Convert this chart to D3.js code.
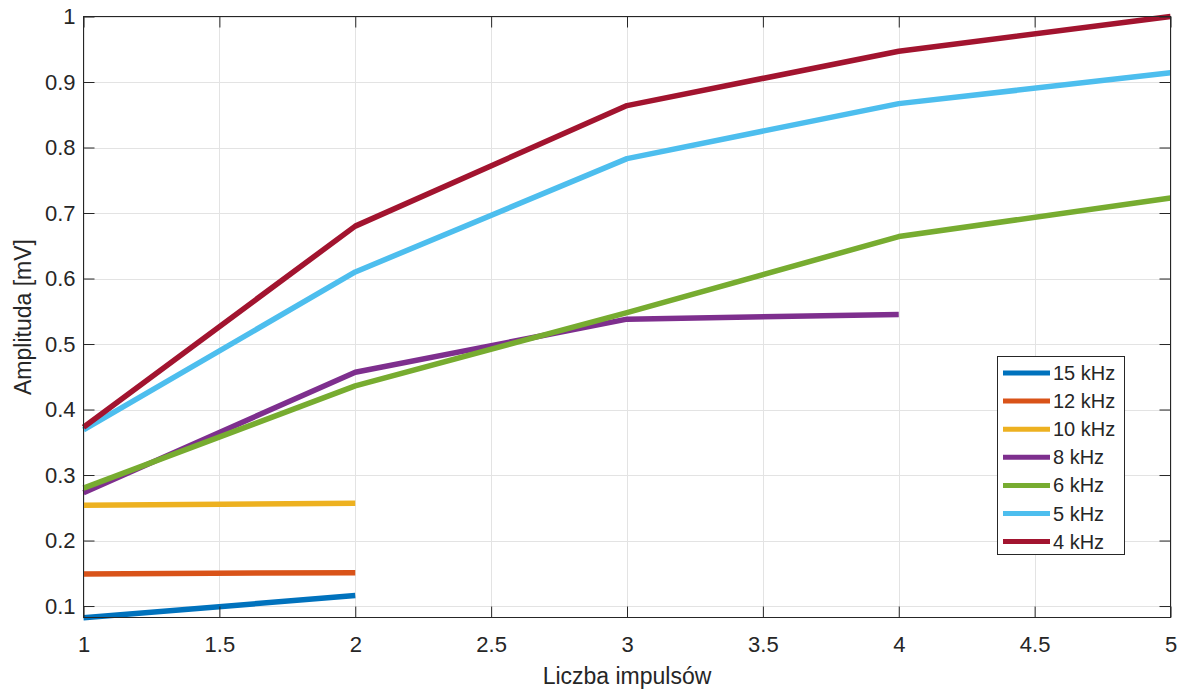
<!DOCTYPE html>
<html><head><meta charset="utf-8">
<script src="https://cdn.jsdelivr.net/npm/d3@7"></script>
<style>body{margin:0;background:#fff;} text{font-family:"Liberation Sans",Arial,Helvetica,sans-serif;fill:#262626;}</style>
</head><body>
<svg id="c" width="1184" height="691"></svg>
<script>
const xValues = [1, 2, 3, 4, 5];
const seriesNames = ["15 kHz", "12 kHz", "10 kHz", "8 kHz", "6 kHz", "5 kHz", "4 kHz"];
const s15 = [0.082, 0.116];
const s12 = [0.149, 0.151];
const s10 = [0.254, 0.257];
const s8 = [0.273, 0.457, 0.538, 0.545];
const s6 = [0.280, 0.436, 0.548, 0.664, 0.723];
const s5 = [0.369, 0.610, 0.783, 0.867, 0.914];
const s4 = [0.373, 0.680, 0.864, 0.947, 1.000];
const seriesColors = ["#0072BD", "#D95319", "#EDB120", "#7E2F8E", "#77AC30", "#4DBEEE", "#A2142F"];
const xTicks = [1, 1.5, 2, 2.5, 3, 3.5, 4, 4.5, 5];
const yTicks = [0.1, 0.2, 0.3, 0.4, 0.5, 0.6, 0.7, 0.8, 0.9, 1];

const series = [s15, s12, s10, s8, s6, s5, s4];
const svg = d3.select("#c");
const L = 83.5, R = 1170.5, T = 16.5, B = 617.5;
const x = d3.scaleLinear().domain([1, 5]).range([L, R]);
const y = d3.scaleLinear().domain([0.0825, 1]).range([B, T]);

// grid
const g = svg.append("g");
g.selectAll(".gx").data(xTicks).enter().append("line")
  .attr("x1", d => Math.round(x(d)) + 0.5).attr("x2", d => Math.round(x(d)) + 0.5)
  .attr("y1", T).attr("y2", B).attr("stroke", "#e3e3e3").attr("stroke-width", 1);
g.selectAll(".gy").data(yTicks).enter().append("line")
  .attr("y1", d => Math.round(y(d)) + 0.5).attr("y2", d => Math.round(y(d)) + 0.5)
  .attr("x1", L).attr("x2", R).attr("stroke", "#e3e3e3").attr("stroke-width", 1);

// lines
const line = d3.line().x((d, i) => x(xValues[i])).y(d => y(d));
svg.append("g").selectAll("path").data(series).enter().append("path")
  .attr("d", d => line(d)).attr("fill", "none")
  .attr("stroke", (d, i) => seriesColors[i]).attr("stroke-width", 5.5)
  .attr("stroke-linejoin", "round");

// axes with inward ticks
const tl = 11;
const ax = svg.append("g");
const xb = d3.axisBottom(x).tickValues(xTicks).tickSizeInner(-tl).tickSizeOuter(0).tickPadding(19)
  .tickFormat(d3.format("~g"));
ax.append("g").attr("transform", `translate(0,${B})`).call(xb);
ax.append("g").attr("transform", `translate(0,${T})`).call(d3.axisTop(x).tickValues(xTicks).tickSizeInner(-tl).tickSizeOuter(0).tickFormat(""));
const yl = d3.axisLeft(y).tickValues(yTicks).tickSizeInner(-tl).tickSizeOuter(0).tickPadding(8)
  .tickFormat(d3.format("~g"));
ax.append("g").attr("transform", `translate(${L},0)`).call(yl);
ax.append("g").attr("transform", `translate(${R},0)`).call(d3.axisRight(y).tickValues(yTicks).tickSizeInner(-tl).tickSizeOuter(0).tickFormat(""));
ax.selectAll(".domain").remove();
ax.selectAll(".tick line").attr("stroke", "#262626");
ax.selectAll(".tick text").attr("font-size", 22).attr("fill", "#262626")
  .style("font-family", '"Liberation Sans",Arial,sans-serif');
svg.append("rect").attr("x", L).attr("y", T).attr("width", R - L).attr("height", B - T)
  .attr("fill", "none").attr("stroke", "#262626").attr("stroke-width", 1);

// labels
svg.append("text").attr("x", (L + R) / 2).attr("y", 684).attr("text-anchor", "middle")
  .attr("font-size", 23).text("Liczba impulsów");
svg.append("text").attr("transform", `translate(31,${(T + B) / 2}) rotate(-90)`)
  .attr("text-anchor", "middle").attr("font-size", 23).text("Amplituda [mV]");

// legend
const lg = svg.append("g");
lg.append("rect").attr("x", 997.5).attr("y", 356.5).attr("width", 127).attr("height", 198)
  .attr("fill", "#fff").attr("stroke", "#262626").attr("stroke-width", 1);
seriesNames.forEach((n, i) => {
  const yy = 373 + i * 28.1;
  lg.append("line").attr("x1", 1003).attr("x2", 1050).attr("y1", yy).attr("y2", yy)
    .attr("stroke", seriesColors[i]).attr("stroke-width", 5);
  lg.append("text").attr("x", 1053).attr("y", yy + 7).attr("font-size", 20).text(n);
});
</script>
</body></html>
